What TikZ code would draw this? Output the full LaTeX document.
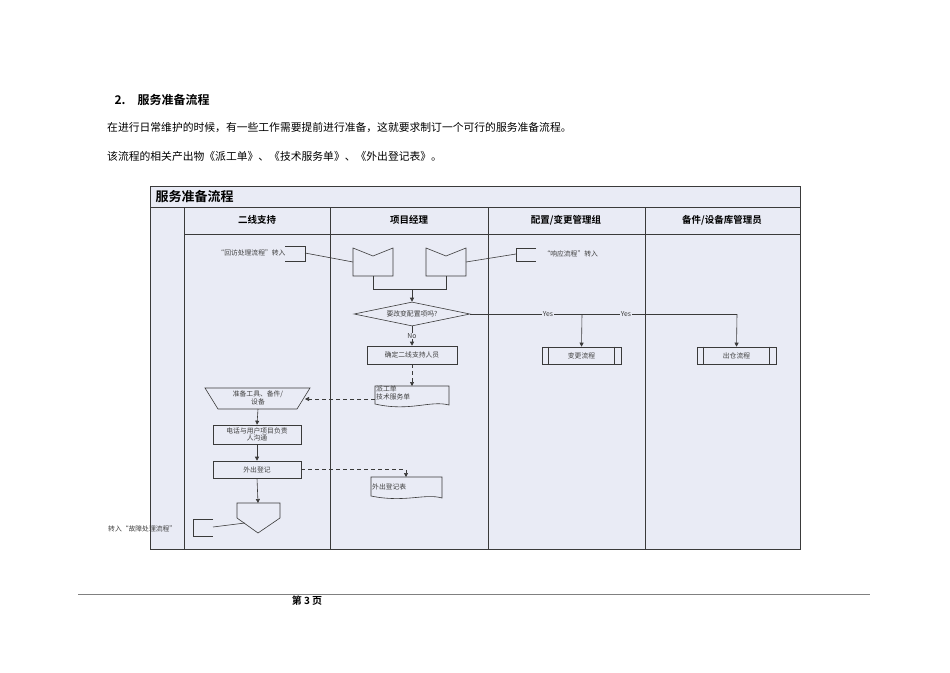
\documentclass[tikz,border=0pt]{standalone}
\usepackage{fontspec}
\setmainfont{Noto Sans CJK SC}
\newfontfamily\cjkb{Noto Sans CJK SC Bold}
\usetikzlibrary{arrows.meta,shapes.geometric}
\definecolor{lane}{HTML}{E9EBF5}
\definecolor{lnc}{HTML}{3A3A3A}
\begin{document}
\begin{tikzpicture}[x=1pt,y=-1pt,
  ln/.style={draw=lnc,line width=0.6pt},
  arr/.style={ln,-{Triangle[length=4pt,width=4pt]}},
  darr/.style={arr,dashed,dash pattern=on 4pt off 3pt},
  sm/.style={font=\fontsize{6.8}{7.6}\selectfont,text=black!75,align=center},
  hd/.style={font=\cjkb\fontsize{9.5}{10}\selectfont}]
\useasboundingbox (0,0) rectangle (950,672);
% page text
\node[anchor=west,font=\cjkb\fontsize{12}{13}\selectfont] (h) at (111,100) {2.\quad 服务准备流程};
\node[anchor=west,font=\fontsize{10.8}{12}\selectfont,inner sep=0pt] (t1) at (107,128) {在进行日常维护的时候，有一些工作需要提前进行准备，这就要求制订一个可行的服务准备流程。};
\node[anchor=west,font=\fontsize{10.8}{12}\selectfont,inner sep=0pt] (t2) at (107,156) {该流程的相关产出物《派工单》、《技术服务单》、《外出登记表》。};
\draw[black!50,line width=0.5pt] (78,594) -- (870,594);
\node[font=\cjkb\fontsize{10}{11}\selectfont] (pg) at (307,601) {第 3 页};
% frame
\fill[lane] (150,186) rectangle (800,549);
\draw[ln,line width=0.9pt] (150,186) rectangle (800,549);
\draw[ln] (150,207) -- (800,207);
\draw[ln] (184,234) -- (800,234);
\foreach \x in {184,330,488,645} \draw[ln,line width=0.9pt] (\x,207) -- (\x,549);
\node[anchor=west,font=\cjkb\fontsize{13}{14}\selectfont] (title) at (152,197) {服务准备流程};
\node[hd] (l1) at (257,220) {二线支持};
\node[hd] (l2) at (409,220) {项目经理};
\node[hd] (l3) at (566,220) {配置/变更管理组};
\node[hd] (l4) at (722,220) {备件/设备库管理员};
% connectors in
\node[sm,anchor=east] (in1t) at (289,253) {“回访处理流程”转入};
\draw[ln] (285,246) -- (305,246) -- (305,261) -- (285,261);
\coordinate (in1) at (305,253);
\node[sm,anchor=west] (in2t) at (540,254) {“响应流程”转入};
\draw[ln] (536,248) -- (516,248) -- (516,261) -- (536,261);
\coordinate (in2) at (516,254);
% two cards
\draw[ln,fill=lane] (353,248) -- (373,256) -- (393,248) -- (393,276) -- (353,276) -- cycle;
\draw[ln,fill=lane] (426,248) -- (446,256) -- (466,248) -- (466,276) -- (426,276) -- cycle;
\coordinate (c1) at (353,262); \coordinate (c2) at (466,262);
\draw[ln] (in1) -- (c1);
\draw[ln] (in2) -- (c2);
\draw[ln] (373,276) -- (373,289) -- (446,289) -- (446,276);
\node[diamond,ln,fill=lane,aspect=4.8,inner sep=0.5pt,minimum width=116pt,minimum height=24pt,sm] (dec) at (412,314) {要改变配置项吗?};
\draw[arr] (412,289) -- (dec.north);
\node[ln,fill=lane,minimum width=79pt,minimum height=17pt,inner sep=0pt,sm] (chg) at (581.5,355.5) {变更流程};
\draw[ln] ([xshift=7pt]chg.north west) -- ([xshift=7pt]chg.south west) ([xshift=-7pt]chg.north east) -- ([xshift=-7pt]chg.south east);
\node[ln,fill=lane,minimum width=79pt,minimum height=17pt,inner sep=0pt,sm] (out) at (736.5,355.5) {出仓流程};
\draw[ln] ([xshift=7pt]out.north west) -- ([xshift=7pt]out.south west) ([xshift=-7pt]out.north east) -- ([xshift=-7pt]out.south east);
\draw[ln] (dec.east) -- (737,314);
\draw[arr] (582,314) -- (chg.north);
\draw[arr] (737,314) -- (out.north);
\node[sm,fill=lane,inner sep=0.5pt] (y1) at (548,314) {Yes};
\node[sm,fill=lane,inner sep=0.5pt] (y2) at (626,314) {Yes};
\node[ln,fill=lane,minimum width=90pt,minimum height=18pt,inner sep=0pt,sm] (det) at (412,355) {确定二线支持人员};
\draw[arr] (dec.south) -- (det.north);
\node[sm,fill=lane,inner sep=0.5pt] (no) at (412,336) {No};
% document 1
\draw[ln,fill=lane] (375,386) -- (449,386) -- (449,405) .. controls (430,400) and (410,412) .. (375,404) -- cycle;
\node[sm,align=left,anchor=north west,inner sep=1pt] (doc1) at (375,385) {派工单\\技术服务单};
\draw[darr] (det.south) -- (412,386);
% trapezoid
\draw[ln,fill=lane] (205,388) -- (310,388) -- (297,409) -- (218,409) -- cycle;
\node[sm] (prep) at (258,398) {准备工具、备件/\\设备};
\draw[darr] (375,399) -- (305,399);
\node[ln,fill=lane,minimum width=88pt,minimum height=19pt,inner sep=0pt,sm] (call) at (257,434.5) {电话与用户项目负责\\人沟通};
\draw[arr] (258,409) -- (call.north);
\node[ln,fill=lane,minimum width=88pt,minimum height=17pt,inner sep=0pt,sm] (reg) at (257,469.5) {外出登记};
\draw[arr] (call.south) -- (reg.north);
% document 2
\draw[ln,fill=lane] (371,477) -- (442,477) -- (442,498) .. controls (425,493) and (405,503) .. (371,496) -- cycle;
\node[sm,anchor=west,inner sep=1pt] (doc2) at (371,487) {外出登记表};
\draw[darr] (reg.east) -- (406,469.5) -- (406,477);
% off-page
\draw[ln,fill=lane] (237,503) -- (280,503) -- (280,518) -- (258,533) -- (237,518) -- cycle;
\draw[arr] (reg.south) -- (258,503);
\draw[ln] (213,519) -- (193,519) -- (193,536) -- (213,536);
\coordinate (in3) at (213,527);
\draw[ln] (in3) -- (245,523);
\node[sm,anchor=west,inner sep=0pt] (in3t) at (108,529) {转入“故障处理流程”};
\end{tikzpicture}
\end{document}
